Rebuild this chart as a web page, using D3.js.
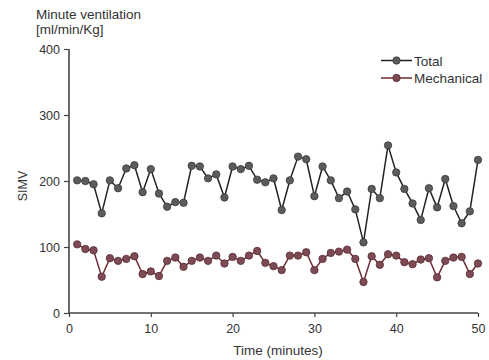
<!DOCTYPE html>
<html>
<head>
<meta charset="utf-8">
<script src="https://cdn.jsdelivr.net/npm/d3@7"></script>
<style>
  body { margin: 0; background: #fff; }
  text { font-family: "Liberation Sans", Arial, sans-serif; fill: #333; }
</style>
</head>
<body>
<svg id="chart" width="489" height="360"></svg>
<script>
// minutes 1..50
const minutes = d3.range(1, 51);
const total = [
  201, 200, 195, 151, 201, 189, 219, 224, 183, 218,
  181, 161, 168, 167, 223, 222, 204, 210, 175, 222,
  218, 223, 202, 198, 204, 156, 201, 237, 233, 177,
  222, 201, 174, 184, 157, 107, 188, 174, 254, 213,
  188, 166, 141, 189, 160, 203, 162, 136, 154, 232
];
const mechanical = [
  104, 97, 95, 55, 83, 79, 82, 86, 59, 63,
  56, 79, 84, 70, 79, 84, 79, 87, 75, 85,
  79, 87, 94, 76, 71, 65, 87, 87, 92, 65,
  82, 91, 93, 96, 82, 47, 86, 73, 89, 87,
  77, 74, 81, 83, 54, 79, 84, 85, 59, 75
];
const xTicks = [0, 10, 20, 30, 40, 50];
const yTicks = [0, 100, 200, 300, 400];

const series = [
  { name: 'Total', values: total, line: '#222', fill: '#5c5c5c', stroke: '#3a3a3a' },
  { name: 'Mechanical', values: mechanical, line: '#6e2a35', fill: '#7d4b54', stroke: '#5a2a32' }
];

const svg = d3.select('#chart');
const x = d3.scaleLinear().domain([0, 50]).range([69, 478]);
const y = d3.scaleLinear().domain([0, 400]).range([313, 49]);

// axes
const xAxis = svg.append('g')
  .attr('transform', 'translate(0,313)')
  .call(d3.axisBottom(x).tickValues(xTicks).tickSize(4).tickPadding(7));
const yAxis = svg.append('g')
  .attr('transform', 'translate(69,0)')
  .call(d3.axisLeft(y).tickValues(yTicks).tickSize(5).tickPadding(4));

[xAxis, yAxis].forEach(g => {
  g.select('.domain').attr('stroke', '#444').attr('stroke-width', 1.6);
  g.selectAll('.tick line').attr('stroke', '#444').attr('stroke-width', 1.2);
  g.selectAll('.tick text')
    .attr('fill', '#333')
    .style('font-family', '"Liberation Sans", Arial, sans-serif')
    .style('font-size', '12.5px');
});
xAxis.select('.domain').attr('d', 'M69,0H478');
yAxis.select('.domain').attr('d', 'M0,49V313');

// lines and markers
const line = d3.line()
  .x((d, i) => x(minutes[i]))
  .y(d => y(d));

series.forEach(s => {
  svg.append('path')
    .datum(s.values)
    .attr('fill', 'none')
    .attr('stroke', s.line)
    .attr('stroke-width', 1.5)
    .attr('d', line);
  svg.append('g')
    .selectAll('circle')
    .data(s.values)
    .enter()
    .append('circle')
    .attr('cx', (d, i) => x(minutes[i]))
    .attr('cy', d => y(d))
    .attr('r', 3.7)
    .attr('fill', s.fill)
    .attr('stroke', s.stroke)
    .attr('stroke-width', 0.8);
});

// legend
const legend = svg.append('g');
series.forEach((s, i) => {
  const ly = 60.5 + i * 17.5;
  legend.append('line')
    .attr('x1', 381).attr('x2', 412)
    .attr('y1', ly).attr('y2', ly)
    .attr('stroke', s.line).attr('stroke-width', 1.5);
  legend.append('circle')
    .attr('cx', 396.5).attr('cy', ly).attr('r', 3.7)
    .attr('fill', s.fill).attr('stroke', s.stroke).attr('stroke-width', 0.8);
  legend.append('text')
    .attr('x', 414).attr('y', ly + 5)
    .style('font-size', '13.5px')
    .text(s.name);
});

// titles
svg.append('text').attr('x', 36).attr('y', 18.5).style('font-size', '13.5px').text('Minute ventilation');
svg.append('text').attr('x', 36).attr('y', 34).style('font-size', '13.5px').text('[ml/min/Kg]');
svg.append('text')
  .attr('transform', 'translate(27,186) rotate(-90)')
  .attr('text-anchor', 'middle')
  .style('font-size', '12.5px')
  .text('SIMV');
svg.append('text')
  .attr('x', 278).attr('y', 355)
  .attr('text-anchor', 'middle')
  .style('font-size', '13.5px')
  .text('Time (minutes)');
</script>
</body>
</html>
